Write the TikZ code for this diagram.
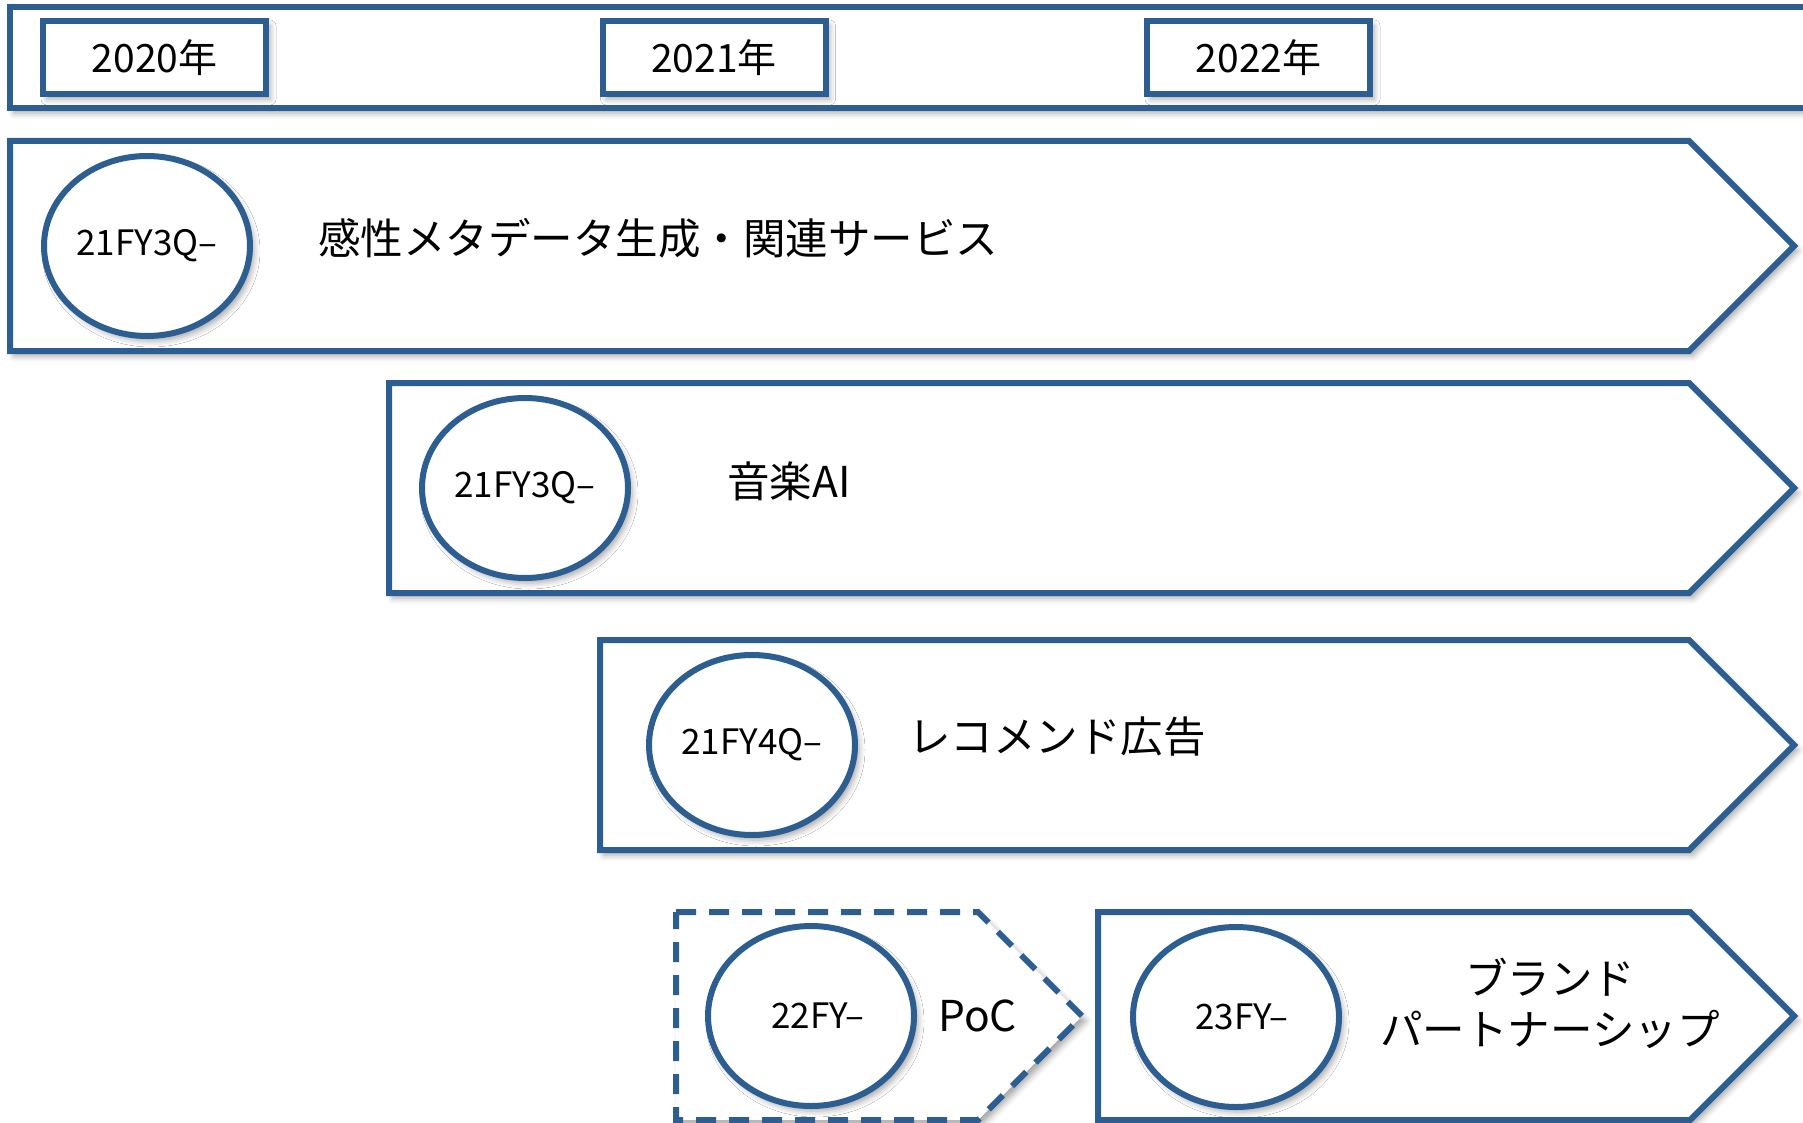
\documentclass[tikz,border=0pt]{standalone}
\usepackage{fontspec}
\setmainfont{Noto Sans CJK JP}
\usepackage{tikz}
\usetikzlibrary{shapes.geometric}
\usetikzlibrary{shadows.blur}
\definecolor{planblue}{RGB}{44,94,146}
\tikzstyle{boxline}=[draw=planblue,line width=6pt,fill=white,line join=miter]
\tikzstyle{softshadow}=[blur shadow={shadow xshift=4pt,shadow yshift=-5pt,shadow blur radius=6pt,shadow opacity=35}]
\tikzstyle{year}=[boxline,softshadow,minimum width=223pt,minimum height=73pt,inner sep=0pt,font=\fontsize{39}{46}\selectfont]
\tikzstyle{start}=[ellipse,boxline,softshadow,minimum width=206pt,minimum height=180pt,inner sep=0pt,font=\fontsize{35}{42}\selectfont]
\tikzstyle{itemtext}=[anchor=west,inner sep=0pt,font=\fontsize{42.5}{51}\selectfont]

\begin{document}
\begin{tikzpicture}[x=1pt,y=-1pt]
      \useasboundingbox (0,0) rectangle (1803,1123);
      % years
      \draw[boxline,softshadow] (10,7) rectangle (1840,108);
      \node[year] at (154.5,57.5) (y2020) {2020年};
      \node[year] at (714,57.5) (y2021) {2021年};
      \node[year] at (1258.5,57.5) (y2022) {2022年};
      % rows
      \draw[boxline,softshadow] (10,141) -- (1689,141) -- (1794,246) -- (1689,351) -- (10,351) -- cycle;
      \draw[boxline,softshadow] (389,383) -- (1689,383) -- (1794,488) -- (1689,593) -- (389,593) -- cycle;
      \draw[boxline,softshadow] (600,640) -- (1689,640) -- (1794,745) -- (1689,850) -- (600,850) -- cycle;
      \draw[boxline,softshadow,dash pattern=on 20pt off 13pt] (676,912) -- (978,912) -- (1082,1016) -- (978,1120) -- (676,1120) -- cycle;
      \draw[boxline,softshadow] (1098,912) -- (1690,912) -- (1794,1016) -- (1690,1120) -- (1098,1120) -- cycle;
      % start dates
      \node[start] at (147,246) (s1) {21FY3Q–};
      \node[start] at (525,488) (s2) {21FY3Q–};
      \node[start] at (752,745) (s3) {21FY4Q–};
      \node[start] at (811,1016) (s4) {\hspace{14pt}22FY–};
      \node[start] at (1236,1017) (s5) {\hspace{12pt}23FY–};
      % names
      \node[itemtext] at (318,238) (t1) {感性メタデータ生成・関連サービス};
      \node[itemtext] at (727,481) (t2) {音楽AI};
      \node[itemtext] at (908,737) (t3) {レコメンド広告};
      \node[itemtext] at (938,1016) (t4) {PoC};
      \node[itemtext,anchor=center,align=center] at (1550,1003) (t5) {ブランド\\パートナーシップ};
    \end{tikzpicture}
\end{document}
